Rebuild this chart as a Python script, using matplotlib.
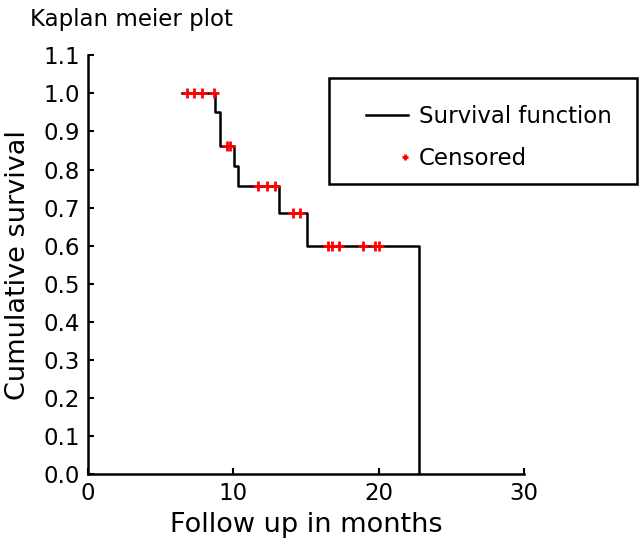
import numpy as np
import matplotlib
matplotlib.use("Agg")
import matplotlib.pyplot as plt
from matplotlib.patches import Rectangle
from matplotlib.legend_handler import HandlerLine2D

# survival step function (time of each step, survival after it)
step_times = [6.45, 8.72, 9.10, 10.07, 10.34, 13.15, 15.05, 22.8]
step_surv = [1.0, 0.952, 0.862, 0.809, 0.757, 0.687, 0.600, 0.0]

# censored observations
cens_times = [6.79, 7.29, 7.87, 8.70, 9.54, 9.77, 11.72, 12.30, 12.87,
              14.13, 14.59, 16.54, 16.77, 17.30, 18.95, 19.75, 20.05]
cens_surv = [1.0, 1.0, 1.0, 1.0, 0.862, 0.862, 0.757, 0.757, 0.757,
             0.687, 0.687, 0.600, 0.600, 0.600, 0.600, 0.600, 0.600]

x_ticks = [0, 10, 20, 30]
y_ticks = np.round(np.arange(0, 1.11, 0.1), 1)


class RightMarker(HandlerLine2D):
    # put the single legend marker at the right end of the handle
    def get_xdata(self, legend, xdescent, ydescent, width, height, fontsize):
        return [-xdescent + 0.92 * width], [-xdescent + 0.92 * width]


plt.rcParams['font.family'] = ['DejaVu Sans']

fig = plt.figure(figsize=(6.4, 5.48), dpi=100)
ax = fig.add_axes([0.1375, 0.135, 0.681, 0.764])

line, = ax.step(step_times, step_surv, where='post', color='black', lw=1.8)
cens, = ax.plot(cens_times, cens_surv, linestyle='none', marker='+',
                color='red', markersize=7, mew=2)

ax.set_xlim(0, 30)
ax.set_ylim(0, 1.1)
ax.set_xticks(x_ticks)
ax.set_yticks(y_ticks)
ax.set_yticklabels([f"{v:.1f}" for v in y_ticks])
ax.tick_params(direction='in', length=4, width=1.5, labelsize=16.5, pad=6)
for s in ['top', 'right']:
    ax.spines[s].set_visible(False)
for s in ['left', 'bottom']:
    ax.spines[s].set_linewidth(1.8)

ax.set_xlabel("Follow up in months", fontsize=19.5, labelpad=5)
ax.set_ylabel("Cumulative survival", fontsize=19.5, labelpad=9)
fig.text(0.047, 0.985, "Kaplan meier plot", fontsize=16.5, va='top', ha='left')

# legend box drawn by hand, legend entries placed inside it
fig.patches.append(Rectangle((0.514, 0.664), 0.482, 0.193, transform=fig.transFigure,
                             fill=False, edgecolor='black', linewidth=1.8))
leg = fig.legend([line, cens], ["Survival function", "Censored"],
                 loc='upper left', bbox_to_anchor=(0.572, 0.809),
                 fontsize=16.5, frameon=False, borderpad=0, borderaxespad=0,
                 handlelength=1.85, handletextpad=0.45, labelspacing=0.85,
                 markerscale=0.6, handler_map={cens: RightMarker(numpoints=1)})

fig.savefig("out.png", dpi=100)
